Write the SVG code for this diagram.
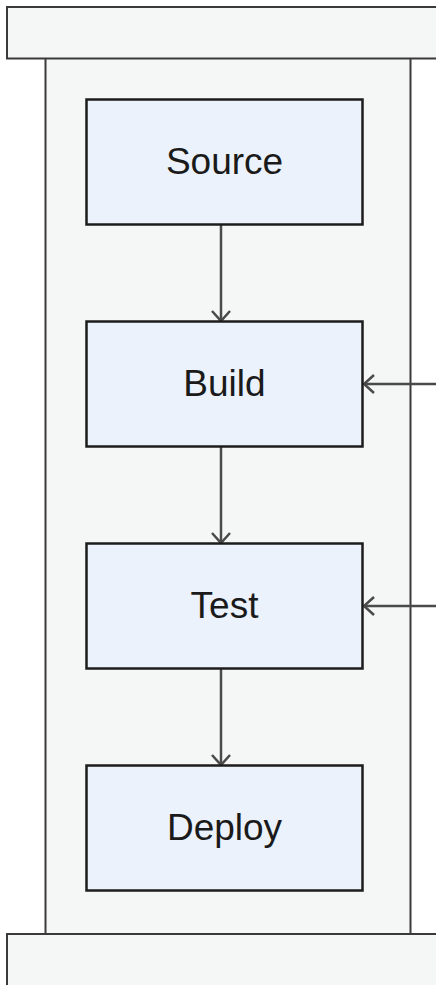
<svg xmlns="http://www.w3.org/2000/svg" width="436" height="985" viewBox="0 0 436 985">
<defs>
<style>
.panel{fill:#f5f6f6;stroke:#3a3a3a;stroke-width:2}
.node rect{fill:#ebf2fb;stroke:#1c1c1c;stroke-width:2.5}
.node text{font-family:"Liberation Sans",Arial,sans-serif;font-size:37px;fill:#1a1a1a;text-anchor:middle}
.conn{stroke:#4a4a4a;stroke-width:2.5;fill:none}
</style>
<marker id="arr" viewBox="0 0 12 20" refX="11" refY="10" markerWidth="12" markerHeight="20" markerUnits="userSpaceOnUse" orient="auto">
<path d="M1,1 L11,10 L1,19" fill="none" stroke="#4a4a4a" stroke-width="2.5"/>
</marker>
</defs>
<rect width="436" height="985" fill="#ffffff"/>
<g id="container">
<rect class="panel" x="45.5" y="58" width="365" height="877"/>
<rect class="panel" x="7" y="7" width="440" height="51.5"/>
<rect class="panel" x="7" y="934" width="440" height="60"/>
</g>
<g id="connectors">
<line class="conn" x1="221" y1="225" x2="221" y2="321" marker-end="url(#arr)"/>
<line class="conn" x1="221" y1="447" x2="221" y2="543" marker-end="url(#arr)"/>
<line class="conn" x1="221" y1="669" x2="221" y2="765" marker-end="url(#arr)"/>
<line class="conn" x1="437" y1="384" x2="364" y2="384" marker-end="url(#arr)"/>
<line class="conn" x1="437" y1="606" x2="364" y2="606" marker-end="url(#arr)"/>
</g>
<g id="source" class="node">
<rect x="86.5" y="99.5" width="276" height="125"/>
<text x="224.5" y="174">Source</text>
</g>
<g id="build" class="node">
<rect x="86.5" y="321.5" width="276" height="125"/>
<text x="224.5" y="396">Build</text>
</g>
<g id="test" class="node">
<rect x="86.5" y="543.5" width="276" height="125"/>
<text x="224.5" y="618">Test</text>
</g>
<g id="deploy" class="node">
<rect x="86.5" y="765.5" width="276" height="125"/>
<text x="224.5" y="840">Deploy</text>
</g>
</svg>
